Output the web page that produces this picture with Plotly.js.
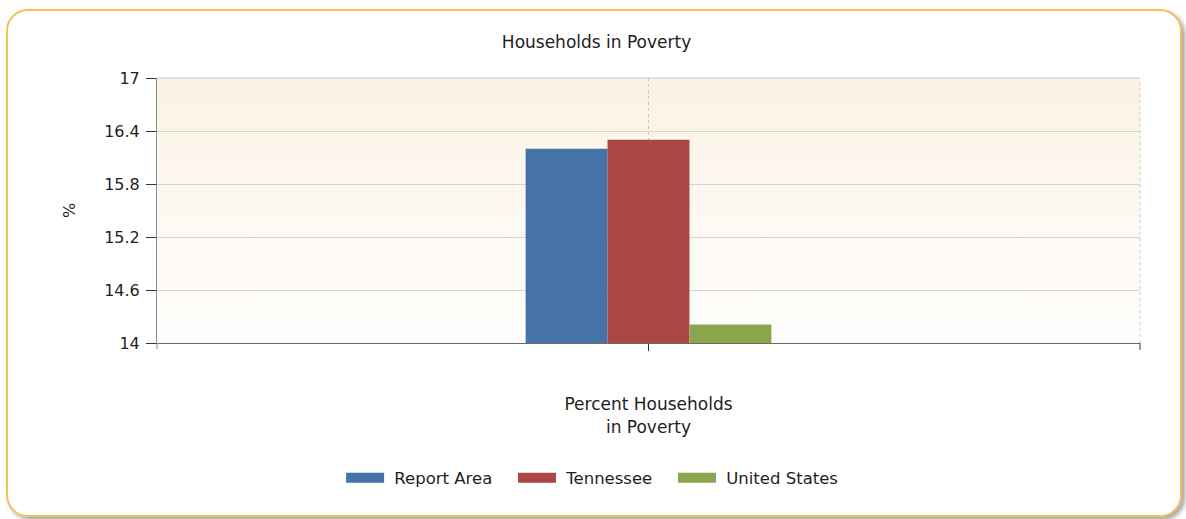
<!DOCTYPE html>
<html>
<head>
<meta charset="utf-8">
<script src="https://cdn.plot.ly/plotly-3.0.1.min.js"></script>
<style>
  html, body { margin: 0; padding: 0; background: #ffffff; width: 1186px; height: 519px; overflow: hidden; }
  #chart { position: absolute; left: 0; top: 0; width: 1186px; height: 519px; }
  #frame { position: absolute; left: 6px; top: 9px; width: 1172px; height: 504px;
           border: 2px solid #f2c05a; border-radius: 22px;
           box-shadow: 3px 3px 4px rgba(90,90,90,0.55); pointer-events: none; }
</style>
</head>
<body>
<div id="chart"></div>
<div id="frame"></div>
<script>
// ---- data ----
const categories = ["Percent Households<br>in Poverty"];
const seriesNames = ["Report Area", "Tennessee", "United States"];
const reportArea = [16.2];
const tennessee = [16.3];
const unitedStates = [14.21];
const seriesColors = ["#4572a7", "#aa4643", "#89a54e"];
const yTickValues = [14, 14.6, 15.2, 15.8, 16.4, 17];

const FONT = "DejaVu Sans, Verdana, sans-serif";
const TXT = "#1e1e1e";
const values = [reportArea, tennessee, unitedStates];

const traces = [];
values.forEach((v, i) => {
  traces.push({
    type: "bar", x: categories, y: v, name: seriesNames[i],
    marker: { color: seriesColors[i], line: { width: 0 } },
    showlegend: false, hoverinfo: "y+name"
  });
});
// legend-only entries with wide swatches
values.forEach((v, i) => {
  traces.push({
    type: "scatter", mode: "lines", x: [null], y: [null],
    name: "\u00a0" + seriesNames[i] + "\u00a0\u00a0\u00a0",
    line: { color: seriesColors[i], width: 12 }, showlegend: true, hoverinfo: "skip"
  });
});

const grad = '<svg xmlns="http://www.w3.org/2000/svg" width="10" height="100" preserveAspectRatio="none">' +
  '<defs><linearGradient id="g" x1="0" y1="0" x2="0" y2="1">' +
  '<stop offset="0" stop-color="#fbf2e4"/><stop offset="1" stop-color="#fffefd"/></linearGradient></defs>' +
  '<rect width="10" height="100" fill="url(#g)"/></svg>';

const layout = {
  width: 1186, height: 519,
  margin: { l: 157, r: 46, t: 78, b: 176 },
  paper_bgcolor: "rgba(0,0,0,0)",
  plot_bgcolor: "rgba(0,0,0,0)",
  font: { family: FONT, size: 16, color: TXT },
  title: { text: "Households in Poverty", x: 0.503, xref: "container", y: 1 - 42/519, yref: "container",
           yanchor: "middle", font: { family: FONT, size: 17, color: TXT } },
  barmode: "group", bargap: 0.75, bargroupgap: 0,
  xaxis: {
    type: "category", range: [-0.5, 0.5],
    showgrid: true, gridcolor: "#c8c8c8", griddash: "dot", gridwidth: 1,
    showline: true, linecolor: "#6a6a6a", linewidth: 1,
    ticks: "outside", ticklen: 7, tickcolor: "#333", tickwidth: 1,
    ticklabelstandoff: 39,
    tickfont: { family: FONT, size: 17, color: TXT },
    fixedrange: true, zeroline: false
  },
  yaxis: {
    range: [14, 17], tickvals: yTickValues, ticktext: yTickValues.map(String),
    showgrid: true, gridcolor: "#d4d4d4", gridwidth: 1,
    showline: true, linecolor: "#8a8a8a", linewidth: 1,
    ticks: "outside", ticklen: 10, tickcolor: "#333", tickwidth: 1,
    ticklabelstandoff: 3,
    tickfont: { family: FONT, size: 16, color: TXT },
    title: { text: "%", standoff: 24, font: { family: FONT, size: 16, color: TXT } },
    fixedrange: true, zeroline: false
  },
  legend: {
    orientation: "h", xref: "container", yref: "container",
    x: 0.506, xanchor: "center", y: 1 - 478/519, yanchor: "middle",
    font: { family: FONT, size: 16.5, color: TXT },
    itemwidth: 38, tracegroupgap: 0, bgcolor: "rgba(0,0,0,0)"
  },
  images: [{
    source: "data:image/svg+xml;charset=utf-8," + encodeURIComponent(grad),
    xref: "paper", yref: "paper", x: 0, y: 1, sizex: 1, sizey: 1,
    sizing: "stretch", layer: "below", xanchor: "left", yanchor: "top"
  }],
  shapes: [
    { type: "line", xref: "paper", yref: "paper", x0: 1, x1: 1, y0: 0, y1: 1,
      line: { color: "#c8c8c8", width: 1, dash: "dot" }, layer: "below" },
    { type: "line", xref: "paper", yref: "paper", x0: 0, x1: 1, y0: 1, y1: 1,
      line: { color: "#c4c4c4", width: 1 }, layer: "below" },
    { type: "line", xref: "paper", x0: 1, x1: 1, yref: "paper", ysizemode: "pixel", yanchor: 0, y0: 0, y1: -7,
      line: { color: "#333", width: 1 } },
    { type: "line", xref: "paper", x0: 0, x1: 0, yref: "paper", ysizemode: "pixel", yanchor: 0, y0: 0, y1: -6,
      line: { color: "#8a8a8a", width: 1 } }
  ],
  showlegend: true
};

Plotly.newPlot("chart", traces, layout, { displayModeBar: false, staticPlot: true });
</script>
</body>
</html>
